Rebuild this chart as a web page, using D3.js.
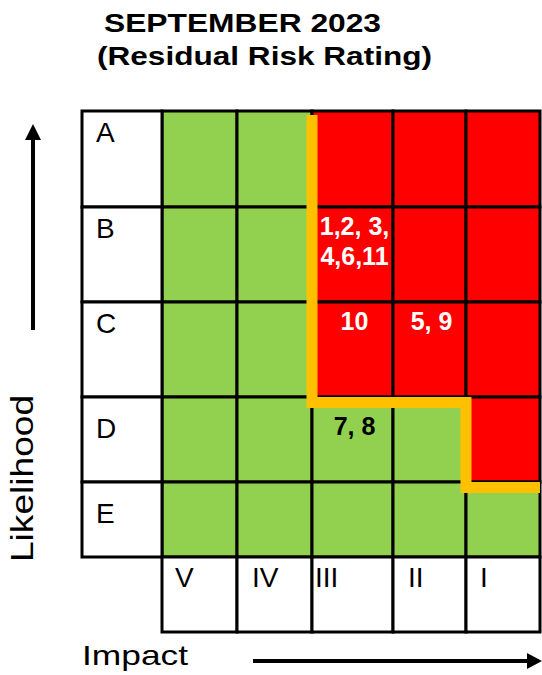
<!DOCTYPE html>
<html>
<head>
<meta charset="utf-8">
<script src="https://cdn.jsdelivr.net/npm/d3@7"></script>
<style>
  body { margin: 0; background: #fff; }
  text { font-family: "Liberation Sans", Arial, sans-serif; }
</style>
</head>
<body>
<div id="fig"></div>
<script>
// chart data
var likelihood = ["A", "B", "C", "D", "E"];
var impact = ["V", "IV", "III", "II", "I"];

// zone per cell, rows = likelihood, cols = impact (R = above appetite, G = within)
var zones = [
  ["G", "G", "R", "R", "R"],
  ["G", "G", "R", "R", "R"],
  ["G", "G", "R", "R", "R"],
  ["G", "G", "G", "G", "R"],
  ["G", "G", "G", "G", "G"]
];

// risk numbers placed in cells
var riskRows = ["B", "C", "C", "D"];
var riskCols = ["III", "III", "II", "III"];
var riskLabels = [["1,2, 3,", "4,6,11"], ["10"], ["5, 9"], ["7, 8"]];

// risk appetite line, walks along cell corners (null col = right edge)
var appetiteCols = ["III", "III", "I", "I", null];
var appetiteRows = ["A", "D", "D", "E", "E"];

var titleLines = ["SEPTEMBER 2023", "(Residual Risk Rating)"];

// layout
var width = 542, height = 675;
var gridLeft = 82, gridTop = 111, labelColW = 80, labelRowH = 75;
var colW = [75, 75, 81, 73, 74];
var rowH = [96, 95, 95, 85, 75];
var rowPad = [0, 0, 0, 10, 10];   // extra top padding in the lower rows
var colPad = [13, 15, 3, 15, 14]; // left padding of impact labels

var colors = { R: "#ff0000", G: "#92d050" };

var svg = d3.select("#fig").append("svg")
    .attr("width", width)
    .attr("height", height);

// ordinal scales from stacked sizes
var x = d3.scaleOrdinal()
  .domain(impact)
  .range(d3.cumsum(colW).map(function(e, i) { return gridLeft + labelColW + e - colW[i]; }));
var xw = d3.scaleOrdinal().domain(impact).range(colW);
var xPad = d3.scaleOrdinal().domain(impact).range(colPad);
var gridRight = gridLeft + labelColW + d3.sum(colW);

var y = d3.scaleOrdinal()
  .domain(likelihood)
  .range(d3.cumsum(rowH).map(function(e, i) { return gridTop + e - rowH[i]; }));
var yh = d3.scaleOrdinal().domain(likelihood).range(rowH);
var yPad = d3.scaleOrdinal().domain(likelihood).range(rowPad);
var gridBottom = gridTop + d3.sum(rowH);

// cells table
var cells = [];
likelihood.forEach(function(r, i) {
  impact.forEach(function(c, j) {
    cells.push({ row: r, col: c, zone: zones[i][j] });
  });
});

// title
svg.selectAll(".title")
  .data(titleLines)
  .enter().append("text")
    .attr("class", "title")
    .attr("x", function(d, i) { return i === 0 ? 104 : 97; })
    .attr("y", function(d, i) { return 32 + i * 33; })
    .attr("textLength", function(d, i) { return i === 0 ? 277 : 335; })
    .attr("lengthAdjust", "spacingAndGlyphs")
    .style("font-size", "25px")
    .style("font-weight", "bold")
    .text(function(d) { return d; });

// coloured cells
svg.append("g")
  .selectAll("rect")
  .data(cells)
  .enter().append("rect")
    .attr("x", function(d) { return x(d.col); })
    .attr("y", function(d) { return y(d.row); })
    .attr("width", function(d) { return xw(d.col); })
    .attr("height", function(d) { return yh(d.row); })
    .attr("fill", function(d) { return colors[d.zone]; })
    .attr("stroke", "#000")
    .attr("stroke-width", 3);

// likelihood label column
var rowLabels = svg.append("g");
rowLabels.selectAll("rect")
  .data(likelihood)
  .enter().append("rect")
    .attr("x", gridLeft)
    .attr("y", function(d) { return y(d); })
    .attr("width", labelColW)
    .attr("height", function(d) { return yh(d); })
    .attr("fill", "#fff")
    .attr("stroke", "#000")
    .attr("stroke-width", 3);
rowLabels.selectAll("text")
  .data(likelihood)
  .enter().append("text")
    .attr("x", gridLeft + 14)
    .attr("y", function(d) { return y(d) + 31 + yPad(d); })
    .style("font-size", "28px")
    .text(function(d) { return d; });

// impact label row
var colLabels = svg.append("g");
colLabels.selectAll("rect")
  .data(impact)
  .enter().append("rect")
    .attr("x", function(d) { return x(d); })
    .attr("y", gridBottom)
    .attr("width", function(d) { return xw(d); })
    .attr("height", labelRowH)
    .attr("fill", "#fff")
    .attr("stroke", "#000")
    .attr("stroke-width", 3);
colLabels.selectAll("text")
  .data(impact)
  .enter().append("text")
    .attr("x", function(d) { return x(d) + xPad(d); })
    .attr("y", gridBottom + 30)
    .style("font-size", "28px")
    .text(function(d) { return d; });

// appetite line
var appetite = appetiteCols.map(function(c, i) {
  var r = appetiteRows[i];
  return [c === null ? gridRight : x(c), i === 0 ? y(r) + 4 : y(r) + 5.5];
});
svg.append("path")
  .attr("d", d3.line()(appetite))
  .attr("fill", "none")
  .attr("stroke", "#ffc000")
  .attr("stroke-width", 11)
  .attr("stroke-linejoin", "miter");

// risk numbers
var risks = riskLabels.map(function(t, i) {
  var zi = likelihood.indexOf(riskRows[i]), zj = impact.indexOf(riskCols[i]);
  return { row: riskRows[i], col: riskCols[i], lines: t, zone: zones[zi][zj] };
});
svg.append("g")
  .selectAll("text")
  .data(risks)
  .enter().append("text")
    .attr("text-anchor", "middle")
    .style("font-size", "25px")
    .style("font-weight", "bold")
    .attr("fill", function(d) { return d.zone === "R" ? "#fff" : "#000"; })
    .each(function(d) {
      d3.select(this).selectAll("tspan")
        .data(d.lines)
        .enter().append("tspan")
          .attr("x", x(d.col) + xw(d.col) / 2 + 2)
          .attr("y", function(l, k) { return y(d.row) + 28 + yPad(d.row) + k * 30; })
          .text(function(l) { return l; });
    });

// axis titles
svg.append("text")
  .attr("transform", "translate(33,562) rotate(-90)")
  .attr("textLength", 167)
  .attr("lengthAdjust", "spacingAndGlyphs")
  .style("font-size", "32px")
  .text("Likelihood");

svg.append("text")
  .attr("x", 82)
  .attr("y", 665)
  .attr("textLength", 106)
  .attr("lengthAdjust", "spacingAndGlyphs")
  .style("font-size", "28px")
  .text("Impact");

// arrows
svg.append("line")
  .attr("x1", 33).attr("y1", 330).attr("x2", 33).attr("y2", 138)
  .attr("stroke", "#000").attr("stroke-width", 4);
svg.append("path")
  .attr("d", "M33,124L25,140L41,140Z")
  .attr("fill", "#000");

svg.append("line")
  .attr("x1", 253).attr("y1", 661).attr("x2", 530).attr("y2", 661)
  .attr("stroke", "#000").attr("stroke-width", 4);
svg.append("path")
  .attr("d", "M542,661L527,653L527,669Z")
  .attr("fill", "#000");
</script>
</body>
</html>
